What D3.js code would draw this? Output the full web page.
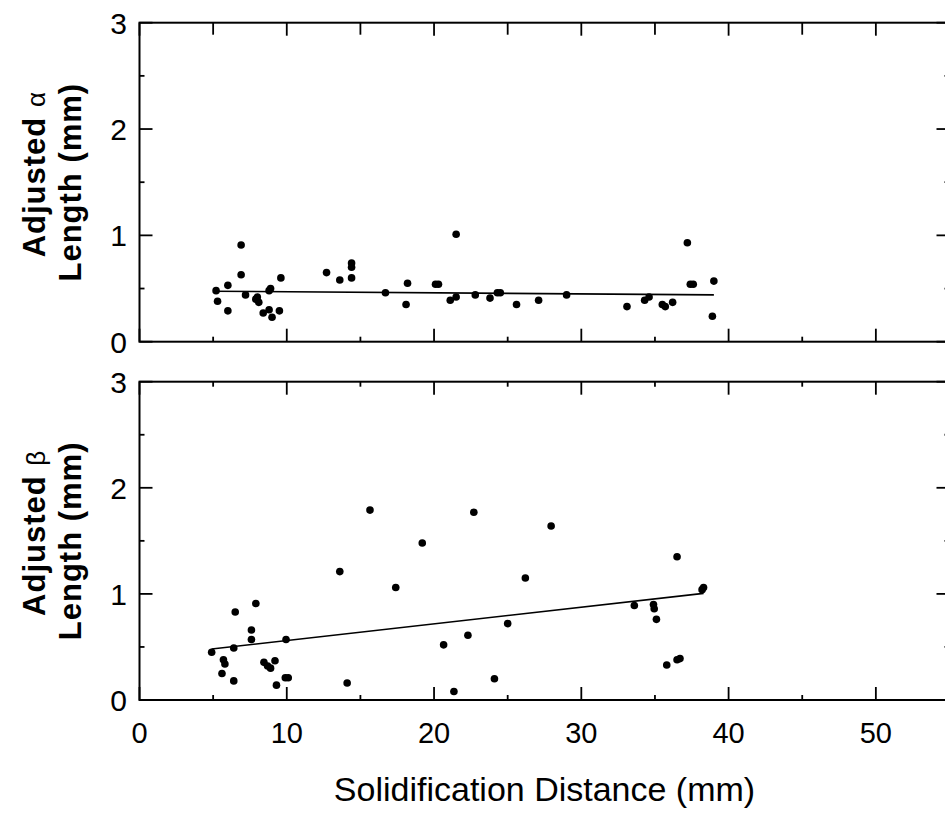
<!DOCTYPE html>
<html>
<head>
<meta charset="utf-8">
<script src="https://cdn.jsdelivr.net/npm/d3@7"></script>
<style>
  body { margin: 0; background: #fff; }
  text { font-family: "Liberation Sans", Arial, sans-serif; fill: #000; }
</style>
</head>
<body>
<div id="chart"></div>
<script>
// x ticks and y ticks shared by both panels
const xMajor = [0, 10, 20, 30, 40, 50];
const xMinor = [5, 15, 25, 35, 45];
const yMajor = [0, 1, 2, 3];
const yMinor = [0.5, 1.5, 2.5];

// top panel: adjusted alpha length (mm) vs solidification distance (mm)
const alphaX = [5.2, 5.3, 6.0, 6.0, 6.9, 6.9, 7.2, 7.9, 8.1, 8.0, 8.4, 8.8, 9.0, 8.9, 8.8, 9.5, 9.6,
    12.7, 13.6, 14.4, 14.4, 14.4, 16.7, 18.2, 18.1, 20.1, 20.3, 21.5, 21.1, 21.5, 22.8, 23.8, 24.3, 24.5,
    25.6, 27.1, 29.0, 33.1, 34.3, 34.6, 35.5, 35.7, 36.2, 37.2, 37.4, 37.6, 39.0, 38.9];
const alphaY = [0.48, 0.38, 0.53, 0.29, 0.91, 0.63, 0.44, 0.40, 0.37, 0.42, 0.27, 0.30, 0.23, 0.50, 0.48, 0.29, 0.60,
    0.65, 0.58, 0.74, 0.70, 0.60, 0.46, 0.55, 0.35, 0.54, 0.54, 1.01, 0.39, 0.42, 0.44, 0.41, 0.46, 0.46,
    0.35, 0.39, 0.44, 0.33, 0.39, 0.42, 0.35, 0.33, 0.37, 0.93, 0.54, 0.54, 0.57, 0.24];
const alphaFitX = [5.0, 39.0];
const alphaFitY = [0.475, 0.44];

// bottom panel: adjusted beta length (mm)
const betaX = [4.9, 5.7, 5.8, 5.6, 6.4, 6.4, 6.5, 7.6, 7.6, 7.9, 8.45, 8.7, 8.9, 9.2, 9.3, 9.95, 9.9, 10.1,
    13.6, 14.1, 15.65, 17.4, 19.2, 20.65, 21.35, 22.3, 22.7, 24.1, 25.0, 26.2, 27.95,
    33.6, 34.9, 34.95, 35.1, 35.8, 36.5, 36.5, 36.7, 38.2, 38.3];
const betaY = [0.45, 0.38, 0.34, 0.25, 0.18, 0.49, 0.83, 0.66, 0.57, 0.91, 0.355, 0.32, 0.30, 0.37, 0.14, 0.57, 0.21, 0.21,
    1.21, 0.16, 1.79, 1.06, 1.48, 0.52, 0.08, 0.61, 1.77, 0.20, 0.72, 1.15, 1.64,
    0.89, 0.90, 0.86, 0.76, 0.33, 1.35, 0.38, 0.39, 1.04, 1.06];
const betaFitX = [4.9, 38.3];
const betaFitY = [0.48, 1.005];

const W = 945, H = 814;
const left = 139.5, right = 949.5;

const svg = d3.select("#chart")
    .append("svg")
    .attr("width", W)
    .attr("height", H);

svg.append("rect").attr("width", W).attr("height", H).attr("fill", "#fff");

const x = d3.scaleLinear().domain([0, 55]).range([left, right]);

function panel(top, bottom, xs, ys, fitX, fitY, greek, topAllLong) {
    const y = d3.scaleLinear().domain([0, 3]).range([bottom, top]);
    const g = svg.append("g");

    // ticks, all pointing inward
    const tick = (x1, y1, x2, y2) => g.append("line")
        .attr("x1", x1).attr("y1", y1).attr("x2", x2).attr("y2", y2)
        .attr("stroke", "#000").attr("stroke-width", 1.8);

    xMajor.forEach(v => {
        tick(x(v), bottom, x(v), bottom - 13);
        tick(x(v), top, x(v), top + 13);
    });
    xMinor.forEach(v => {
        tick(x(v), bottom, x(v), bottom - 5);
        tick(x(v), top, x(v), top + (topAllLong ? 12 : 5));
    });
    yMajor.forEach(v => {
        tick(left, y(v), left + 13, y(v));
        tick(right, y(v), right - 13, y(v));
    });
    yMinor.forEach(v => {
        tick(left, y(v), left + 5, y(v));
        tick(right, y(v), right - 5, y(v));
    });

    // frame
    g.append("rect")
        .attr("x", left).attr("y", top)
        .attr("width", right - left).attr("height", bottom - top)
        .attr("fill", "none").attr("stroke", "#000").attr("stroke-width", 2);

    // y tick labels
    g.selectAll(".ylab")
        .data(yMajor)
        .enter()
        .append("text")
        .attr("x", 127)
        .attr("y", d => y(d))
        .attr("dy", "0.36em")
        .attr("text-anchor", "end")
        .style("font-size", "30px")
        .text(d => d);

    // fit line
    g.append("line")
        .attr("x1", x(fitX[0])).attr("y1", y(fitY[0]))
        .attr("x2", x(fitX[1])).attr("y2", y(fitY[1]))
        .attr("stroke", "#000").attr("stroke-width", 1.6);

    // dots
    g.append("g")
        .selectAll("circle")
        .data(d3.zip(xs, ys))
        .enter()
        .append("circle")
        .attr("cx", d => x(d[0]))
        .attr("cy", d => y(d[1]))
        .attr("r", 3.8)
        .style("fill", "#000");

    // rotated two-line label
    const cy = (top + bottom) / 2;
    const t1 = g.append("text")
        .attr("transform", `translate(45, ${cy - 8}) rotate(-90)`)
        .attr("text-anchor", "middle")
        .style("font-size", "31px")
        .style("font-weight", "bold")
        .style("letter-spacing", "1px");
    t1.append("tspan").text("Adjusted ");
    t1.append("tspan").style("font-weight", "normal").style("font-size", "26px").text(greek);

    g.append("text")
        .attr("transform", `translate(81, ${cy}) rotate(-90)`)
        .attr("text-anchor", "middle")
        .style("font-size", "31px")
        .style("font-weight", "bold")
        .style("letter-spacing", "1px")
        .text("Length (mm)");

    return y;
}

panel(22.7, 341.7, alphaX, alphaY, alphaFitX, alphaFitY, "α", true);
panel(381.7, 700, betaX, betaY, betaFitX, betaFitY, "β", false);

// x tick labels under the bottom panel
svg.selectAll(".xlab")
    .data(xMajor)
    .enter()
    .append("text")
    .attr("x", d => x(d))
    .attr("y", 743)
    .attr("text-anchor", "middle")
    .style("font-size", "29px")
    .text(d => d);

svg.append("text")
    .attr("x", (left + right) / 2)
    .attr("y", 801)
    .attr("text-anchor", "middle")
    .style("font-size", "34px")
    .text("Solidification Distance (mm)");
</script>
</body>
</html>
